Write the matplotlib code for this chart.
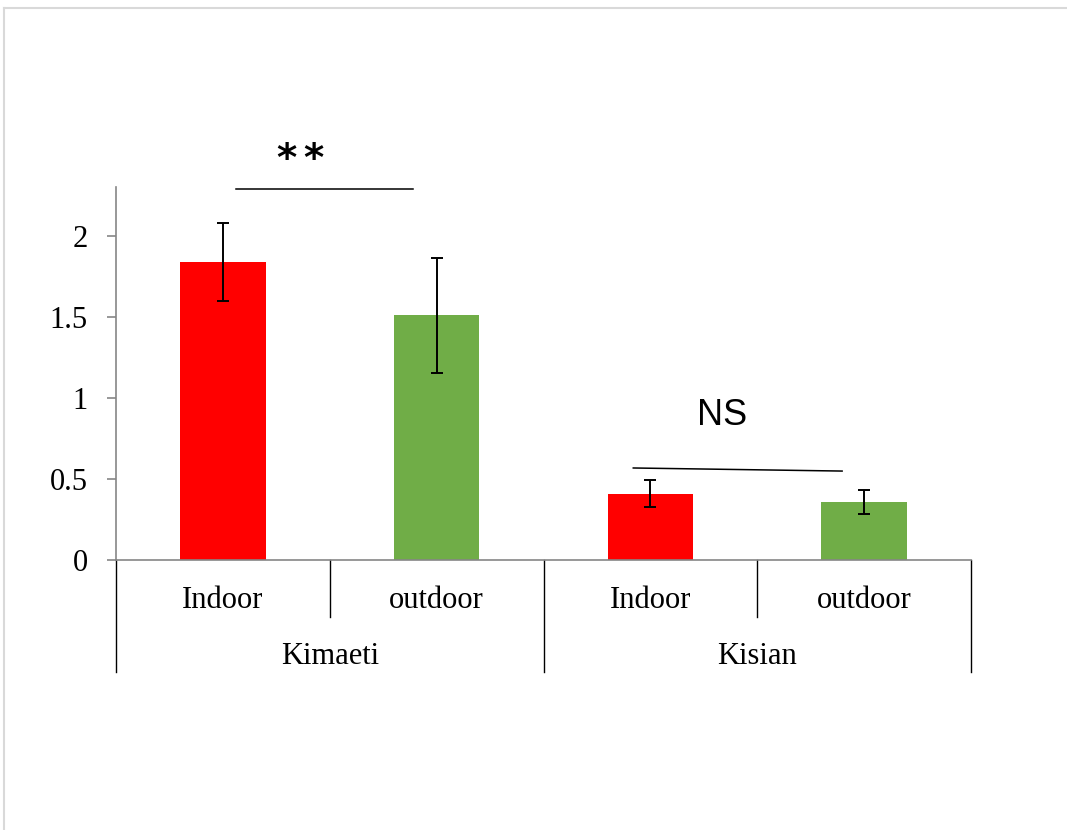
import matplotlib
matplotlib.use("Agg")
import matplotlib.pyplot as plt
from matplotlib.lines import Line2D
import matplotlib.transforms as mtransforms

# mean values and error (half range) per site / location
sites = ["Kimaeti", "Kisian"]
locations = ["Indoor", "outdoor"]
means = [1.84, 1.51, 0.41, 0.358]
errors = [0.24, 0.355, 0.085, 0.072]
colors = ["#ff0000", "#70ad47", "#ff0000", "#70ad47"]
yticks = [0, 0.5, 1, 1.5, 2]
yticklabels = ["0", "0.5", "1", "1.5", "2"]

fig = plt.figure(figsize=(10.67, 8.3), dpi=100)
px = 162.0  # pixels per unit on y
ax = fig.add_axes([116 / 1067, 270 / 830, 855 / 1067, 2.3 * px / 830])

x = list(range(len(means)))
ax.bar(x, means, width=0.4, color=colors, zorder=2)
ax.errorbar(x, means, yerr=errors, fmt="none", ecolor="black",
            elinewidth=1.4, capsize=4.5, capthick=1.4, zorder=3)

ax.set_xlim(-0.5, 3.5)
ax.set_ylim(0, 2.3)
ax.set_yticks(yticks)
ax.set_yticklabels(yticklabels, fontfamily="Liberation Serif", fontsize=22)
ax.set_xticks([])

for s in ["top", "right"]:
    ax.spines[s].set_visible(False)
for s in ["left", "bottom"]:
    ax.spines[s].set_color("#868686")
    ax.spines[s].set_linewidth(1.2)
ax.tick_params(axis="y", direction="out", length=6.5, width=1.2,
               color="#868686", pad=14)

# two level category axis
trans = mtransforms.blended_transform_factory(ax.transData, ax.transAxes)
for xs in [-0.5, 1.5, 3.5]:
    ax.plot([xs, xs], [0, -0.30], transform=trans, color="black",
            lw=1, clip_on=False)
for xs in [0.5, 2.5]:
    ax.plot([xs, xs], [0, -0.153], transform=trans, color="black",
            lw=1, clip_on=False)
for i, xi in enumerate(x):
    ax.text(xi, -0.109, locations[i % 2], transform=trans, ha="center",
            va="center", fontfamily="Liberation Serif", fontsize=22)
for j, site in enumerate(sites):
    ax.text(2 * j + 0.5, -0.258, site, transform=trans, ha="center",
            va="center", fontfamily="Liberation Serif", fontsize=22)

# significance marks
ax.plot([0.061, 0.888], [2.29, 2.29], color="black", lw=1.1, clip_on=False)
for sx in [0.296, 0.422]:
    ax.text(sx, 2.40, "*", ha="center", va="baseline", fontweight="bold",
            fontfamily="DejaVu Sans", fontsize=28)
ax.plot([1.92, 2.897], [0.568, 0.549], color="black", lw=1.1, clip_on=False)
ax.text(2.336, 0.895, "NS", ha="center", va="center",
        fontfamily="Liberation Sans", fontsize=26)

# light frame around the chart area
fig.add_artist(Line2D([4 / 1067, 1], [1 - 8 / 830, 1 - 8 / 830],
                      color="#d9d9d9", lw=1.5))
fig.add_artist(Line2D([4 / 1067, 4 / 1067], [0, 1 - 8 / 830],
                      color="#d9d9d9", lw=1.5))

fig.savefig("out.png", dpi=100)
